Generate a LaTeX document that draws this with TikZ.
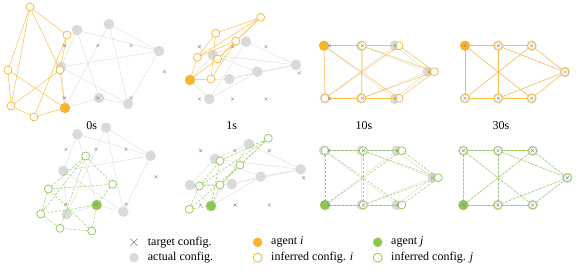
\documentclass[tikz,border=0pt]{standalone}
\usepackage{fontspec}
\setmainfont{Liberation Serif}
\usetikzlibrary{shapes.misc}
\definecolor{orng}{RGB}{249,180,40}
\definecolor{grn}{RGB}{140,200,80}
\definecolor{cfgray}{RGB}{218,218,218}
\definecolor{lgray}{RGB}{224,224,224}
\definecolor{xgray}{RGB}{140,140,140}

\begin{document}
\begin{tikzpicture}[x=1pt,y=-1pt,font=\fontsize{12}{14}\selectfont,
    actual/.style={circle,fill=cfgray,inner sep=0pt,minimum size=10.5pt},
    inferred/.style={circle,draw=#1,fill=white,line width=0.7pt,inner sep=0pt,minimum size=8pt},
    agent/.style={circle,fill=#1,inner sep=0pt,minimum size=10pt},
    target/.style={cross out,draw=xgray,line width=0.4pt,inner sep=0pt,minimum size=2.6pt},
    actual edge/.style={draw=lgray,line width=0.5pt},
    edge i/.style={draw=orng!85,line width=0.5pt},
    edge j/.style={draw=grn!90,line width=0.5pt,dash pattern=on 2.5pt off 1.5pt},
    legend/.style={anchor=west,inner sep=0pt}]
    \useasboundingbox (0,0) rectangle (581,272);
    \def\edges{TL/TM,TM/TR,BL/BM,BM/BR,TL/BL,TM/BM,TL/BR,TR/BL,TM/R,TR/R,BM/R,BR/R}
    \def\names{TL,TM,TR,R,BL,BM,BR}
    % target configurations
    \foreach \p/\ox/\oy/\s/\h in {t0/64.5/45.5/33.3/52.5, t1/199.3/46.7/33.3/52.3,
        t10/329.3/45.7/33.3/52.6, t30/465/45.7/33.3/52.6, b0/66/149.3/30/55,
        b1/200.7/150.7/34.3/54.3, b10/328.8/150.7/34.5/54.3, b30/463.3/150.7/34.7/54.3}{
      \coordinate (\p-x-TL) at (\ox,\oy);
      \coordinate (\p-x-TM) at (\ox+\s,\oy);
      \coordinate (\p-x-TR) at (\ox+2*\s,\oy);
      \coordinate (\p-x-R) at (\ox+3*\s,\oy+\h/2);
      \coordinate (\p-x-BL) at (\ox,\oy+\h);
      \coordinate (\p-x-BM) at (\ox+\s,\oy+\h);
      \coordinate (\p-x-BR) at (\ox+2*\s,\oy+\h);
    }
    % actual configurations
    \foreach \n/\x/\y in {TL/65/108,TM/61/67,TR/77/30,R/159/51,BL/99/98,BM/128/104,BR/109/24}
      \coordinate (t0-a-\n) at (\x,\y);
    \foreach \n/\x/\y in {TL/190/80,TM/212.7/55,TR/246/41.7,R/296/65,BL/209.3/99,BM/257.3/71.7,BR/229.3/79}
      \coordinate (t1-a-\n) at (\x,\y);
    \foreach \n/\x/\y in {TL/324/45.7,TM/361/45.7,TR/395/45.7,R/427.7/71.7,BL/325/98.3,BM/361/98.3,BR/395/99}
      \coordinate (t10-a-\n) at (\x,\y);
    \foreach \n/\x/\y in {TL/66.7/214.3,TM/63.3/171,TR/77.3/134.3,R/150.7/155.7,BL/96.7/205,BM/123.3/211.7,BR/106/127.7}
      \coordinate (b0-a-\n) at (\x,\y);
    \foreach \n/\x/\y in {TL/190/185,TM/215/159,TR/249/144,R/300.7/169.3,BL/211/206,BM/260.7/176.7,BR/231.7/184}
      \coordinate (b1-a-\n) at (\x,\y);
    \foreach \n/\x/\y in {TL/324/150.7,TM/361.7/150.7,TR/396.7/150.7,R/432.7/177.7,BL/325/205,BM/361.7/205,BR/396.7/205}
      \coordinate (b10-a-\n) at (\x,\y);
    % inferred configurations
    \foreach \n/\x/\y in {TL/65/108,TM/60/70,TR/67/35,R/30/7,BL/34/117,BM/11/106,BR/8/70}
      \coordinate (t0-i-\n) at (\x,\y);
    \foreach \n/\x/\y in {TL/190/80,TM/197.3/57.3,TR/215.7/33.3,R/260.7/17.3,BL/211/79,BM/235.7/41,BR/217.7/59}
      \coordinate (t1-i-\n) at (\x,\y);
    \foreach \n/\x/\y in {TL/324/45.7,TM/362.3/45.7,TR/399/45.7,R/434.3/71.7,BL/325/98.3,BM/361.7/98.3,BR/399/98.3}
      \coordinate (t10-i-\n) at (\x,\y);
    \foreach \n/\x/\y in {TL/91.7/231,TM/48.3/189,TR/112.7/184.3,R/85.7/156,BL/96.7/205,BM/40.7/214,BR/60/228.3}
      \coordinate (b0-i-\n) at (\x,\y);
    \foreach \n/\x/\y in {TL/189.3/209.3,TM/199.3/186,TR/220/161,R/268.3/138.3,BL/211/206,BM/220/185,BR/240/165}
      \coordinate (b1-i-\n) at (\x,\y);
    \foreach \n/\x/\y in {TL/325/150.7,TM/363.3/150.7,TR/401.7/150.7,R/438.3/177.7,BL/325/205,BM/363.3/205,BR/401.7/205}
      \coordinate (b10-i-\n) at (\x,\y);
    % converged: all at target
    \foreach \p in {t30,b30}
      \foreach \n in \names {
        \coordinate (\p-a-\n) at (\p-x-\n);
        \coordinate (\p-i-\n) at (\p-x-\n);
      }
    % top row: agent i
    \foreach \p in {t0,t1,t10,t30}{
      \foreach \u/\v in \edges \draw[actual edge] (\p-a-\u) -- (\p-a-\v);
      \foreach \n in \names \node[actual] at (\p-a-\n) {};
      \foreach \u/\v in \edges \draw[edge i] (\p-i-\u) -- (\p-i-\v);
      \foreach \n in \names \node[inferred=orng] at (\p-i-\n) {};
      \node[agent=orng] at (\p-a-TL) {};
      \foreach \n in \names \node[target] at (\p-x-\n) {};
    }
    % bottom row: agent j
    \foreach \p in {b0,b1,b10,b30}{
      \foreach \u/\v in \edges \draw[actual edge] (\p-a-\u) -- (\p-a-\v);
      \foreach \n in \names \node[actual] at (\p-a-\n) {};
      \foreach \u/\v in \edges \draw[edge j] (\p-i-\u) -- (\p-i-\v);
      \foreach \n in \names \node[inferred=grn] at (\p-i-\n) {};
      \node[agent=grn] at (\p-a-BL) {};
      \foreach \n in \names \node[target] at (\p-x-\n) {};
    }
    % time labels
    \node (lbl0) at (91.7,126) {0s};
    \node (lbl1) at (231.7,126) {1s};
    \node (lbl10) at (364,126) {10s};
    \node (lbl30) at (501,126) {30s};
    % legend
    \node[target,draw=gray,minimum size=6.5pt,line width=0.6pt] (lg-x) at (134,242.3) {};
    \node[legend] (lg-xt) at (147.7,242.3) {target config.};
    \node[actual,minimum size=9.5pt] (lg-a) at (134,257.7) {};
    \node[legend] (lg-at) at (147.7,257.7) {actual config.};
    \node[agent=orng,minimum size=9.5pt] (lg-i) at (257.7,242.3) {};
    \node[legend] (lg-it) at (271,242.3) {agent \textit{i}};
    \node[inferred=orng,minimum size=9pt,line width=0.8pt] (lg-ii) at (257.7,257.7) {};
    \node[legend] (lg-iit) at (271,257.7) {inferred config. \textit{i}};
    \node[agent=grn,minimum size=9.5pt] (lg-j) at (377.7,242.3) {};
    \node[legend] (lg-jt) at (391,242.3) {agent \textit{j}};
    \node[inferred=grn,minimum size=9pt,line width=0.8pt] (lg-ij) at (377.7,257.7) {};
    \node[legend] (lg-ijt) at (391,257.7) {inferred config. \textit{j}};
\end{tikzpicture}
\end{document}
